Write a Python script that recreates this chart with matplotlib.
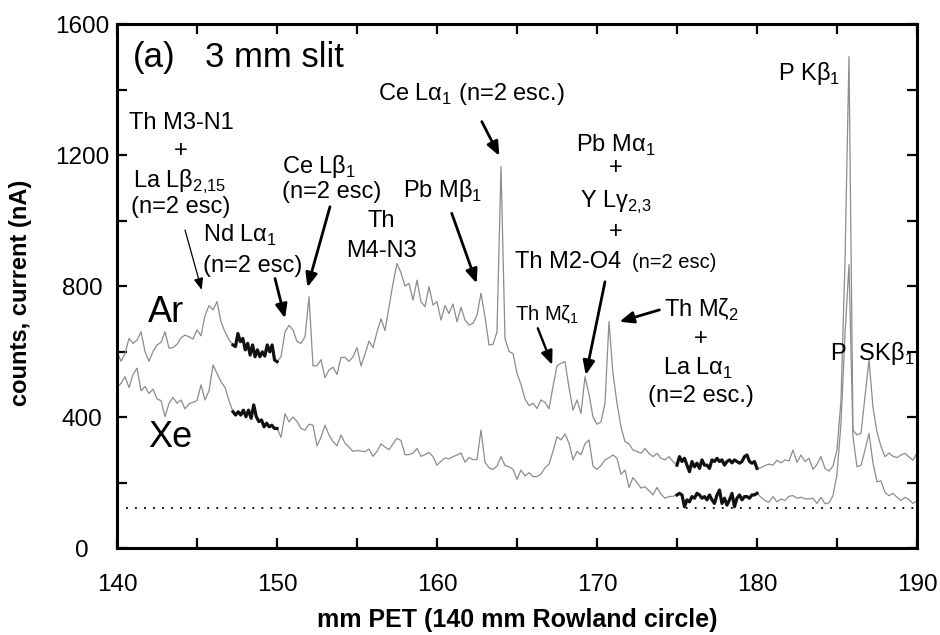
import numpy as np
import matplotlib.pyplot as plt
from matplotlib.ticker import MultipleLocator, FuncFormatter

plt.rcParams['font.family'] = ['Liberation Sans', 'DejaVu Sans']
plt.rcParams['mathtext.fontset'] = 'custom'
plt.rcParams['mathtext.rm'] = 'Liberation Sans'

# spectrometer position, mm PET, 0.25 mm steps
mm = np.arange(140.0, 190.001, 0.25)

ar_counts = [
    600, 570, 594, 640, 625, 635, 660, 600, 570, 600, 620, 628, 660, 610, 612, 622, 642, 650, 645, 638,
    666, 648, 710, 740, 727, 752, 690, 660, 635, 620, 655, 638, 612, 592, 600, 600, 590, 592, 600, 578,
    569, 584, 660, 680, 666, 630, 625, 645, 767, 556, 557, 575, 520, 544, 552, 530, 582, 582, 570, 584,
    612, 556, 592, 632, 612, 660, 700, 664, 737, 808, 869, 840, 800, 808, 757, 818, 752, 737, 798, 742,
    752, 696, 740, 716, 745, 691, 735, 696, 681, 686, 711, 778, 706, 620, 622, 660, 1165, 640, 600, 594,
    533, 500, 455, 435, 442, 426, 452, 445, 425, 493, 556, 564, 569, 490, 421, 452, 411, 523, 470, 400,
    378, 385, 442, 691, 533, 442, 370, 325, 318, 299, 295, 289, 304, 289, 279, 289, 274, 269, 279, 264,
    253, 270, 274, 240, 264, 255, 255, 253, 245, 269, 274, 266, 253, 267, 260, 264, 262, 279, 270, 259,
    243, 245, 252, 256, 253, 268, 260, 269, 266, 299, 262, 284, 264, 274, 240, 255, 279, 243, 235, 250,
    300, 450, 870, 1500, 360, 345, 350, 462, 574, 430, 355, 310, 279, 290, 280, 276, 284, 289, 278, 268,
    290,
]

xe_counts = [
    490, 503, 523, 490, 530, 549, 480, 493, 472, 485, 455, 450, 401, 442, 460, 442, 452, 425, 440, 445,
    450, 498, 452, 480, 559, 533, 508, 490, 450, 416, 416, 410, 401, 400, 437, 386, 385, 381, 370, 365,
    365, 338, 410, 385, 400, 386, 365, 360, 378, 375, 312, 338, 375, 345, 325, 312, 345, 320, 308, 295,
    298, 296, 294, 302, 280, 295, 318, 308, 300, 318, 335, 328, 285, 285, 290, 304, 280, 285, 292, 279,
    253, 265, 275, 272, 279, 284, 290, 262, 276, 270, 270, 360, 262, 245, 240, 250, 279, 252, 248, 240,
    210, 238, 220, 230, 218, 218, 226, 245, 256, 295, 340, 330, 348, 320, 270, 295, 285, 318, 330, 250,
    240, 252, 269, 276, 284, 274, 225, 238, 185, 215, 200, 183, 187, 175, 162, 185, 165, 152, 157, 158,
    162, 162, 141, 157, 160, 152, 150, 150, 147, 140, 170, 140, 145, 140, 140, 152, 152, 157, 152, 162,
    167, 155, 145, 140, 157, 141, 150, 145, 158, 160, 152, 155, 150, 150, 152, 136, 155, 135, 138, 160,
    225, 380, 650, 865, 340, 248, 252, 299, 350, 260, 202, 205, 170, 160, 167, 155, 145, 155, 148, 136,
    145,
]

# background windows, finer scans drawn in black
bg1 = (147.25, 150.0)
bg2 = (175.0, 180.0)
ar_bg1 = [620, 615, 655, 630, 640, 605, 625, 589, 620, 584, 605, 584, 599, 586, 620, 599, 620, 574, 569]
xe_bg1 = [416, 406, 416, 406, 421, 401, 421, 396, 437, 401, 386, 391, 370, 381, 370, 375, 365, 365]
ar_bg2 = [253, 279, 264, 274, 253, 233, 264, 248, 259, 243, 269, 253, 253, 243, 269, 264, 274,
          264, 269, 253, 264, 269, 260, 269, 264, 259, 264, 279, 284, 264, 259, 264, 243]
xe_bg2 = [162, 167, 162, 126, 147, 141, 157, 152, 167, 162, 152, 157, 147, 162, 147, 136, 162,
          177, 136, 152, 131, 147, 167, 126, 152, 162, 147, 157, 157, 152, 162, 162, 167]

baseline = 123

fig = plt.figure(figsize=(9.4, 6.35), dpi=100)
ax = fig.add_axes([0.1245, 0.137, 0.851, 0.8252])

inside = ((mm > bg1[0]) & (mm < bg1[1])) | ((mm > bg2[0]) & (mm < bg2[1]))
grey = '#8c8c8c'
for counts in (ar_counts, xe_counts):
    y = np.where(inside, np.nan, np.asarray(counts, dtype=float))
    ax.plot(mm, y, color=grey, lw=0.9)

for (lo, hi), vals in [(bg1, ar_bg1), (bg1, xe_bg1), (bg2, ar_bg2), (bg2, xe_bg2)]:
    ax.plot(np.linspace(lo, hi, len(vals)), vals, color='#111111', lw=2.3)

ax.axhline(baseline, color='black', lw=1.3, ls=(0, (1, 4)))

ax.set_xlim(140, 190)
ax.set_ylim(0, 1600)
ax.xaxis.set_major_locator(MultipleLocator(10))
ax.xaxis.set_minor_locator(MultipleLocator(5))
ax.yaxis.set_major_locator(MultipleLocator(400))
ax.yaxis.set_minor_locator(MultipleLocator(200))
ax.yaxis.set_major_formatter(FuncFormatter(lambda v, p: f'{v:.0f}'))
ax.tick_params(which='both', direction='in', top=True, right=True, length=7, width=1.6)
ax.tick_params(axis='x', labelsize=17.5, pad=19)
ax.tick_params(axis='y', labelsize=17.5, pad=25)
for t in ax.get_yticklabels():
    t.set_horizontalalignment('center')
for s in ax.spines.values():
    s.set_linewidth(2.2)

fig.text(0.55, 0.024, 'mm PET (140 mm Rowland circle)', fontsize=18, fontweight='bold',
         ha='center', va='center')
fig.text(0.0213, 0.539, 'counts, current (nA)', fontsize=17, fontweight='bold',
         rotation=90, ha='center', va='center')


def label(x, y, s, size=17, ha='center'):
    ax.text(x, y, s, fontsize=size, ha=ha, va='baseline')


def arrow(start, tip, lw=2.0, hl=0.6, hw=0.25):
    ax.annotate('', xy=tip, xytext=start,
                arrowprops=dict(arrowstyle=f'-|>,head_length={hl},head_width={hw}',
                                color='black', lw=lw, mutation_scale=14,
                                shrinkA=0, shrinkB=0))


label(141.0, 1469, '(a)', size=25, ha='left')
label(145.5, 1469, '3 mm slit', size=25, ha='left')
label(141.94, 691, 'Ar', size=26, ha='left')
label(141.94, 309, 'Xe', size=26, ha='left')

label(144.0, 1279, 'Th M3-N1')
label(144.0, 1194, '+')
label(143.94, 1099, r'La L$\mathregular{\beta}_\mathregular{2{,}15}$')
label(144.0, 1023, '(n=2 esc)')
arrow((144.25, 971), (145.29, 788), lw=0.9, hl=0.5, hw=0.2)

label(145.375, 935, r'Nd L$\mathregular{\alpha}_\mathregular{1}$', ha='left')
label(145.375, 844, '(n=2 esc)', ha='left')
arrow((149.875, 823), (150.5, 701))

label(150.31, 1145, r'Ce L$\mathregular{\beta}_\mathregular{1}$', ha='left')
label(150.31, 1069, '(n=2 esc)', ha='left')
arrow((153.31, 1042), (151.9, 796))

label(156.5, 980, 'Th')
label(156.5, 889, 'M4-N3')

label(157.875, 1072, r'Pb M$\mathregular{\beta}_\mathregular{1}$', ha='left')
arrow((160.92, 1022), (162.48, 808))

label(156.3, 1368, r'Ce L$\mathregular{\alpha}_\mathregular{1}$ (n=2 esc.)', ha='left')
arrow((162.8, 1302), (163.9, 1197))

label(171.2, 1210, r'Pb M$\mathregular{\alpha}_\mathregular{1}$')
label(171.2, 1142, '+')
label(171.2, 1038, r'Y L$\mathregular{\gamma}_\mathregular{2{,}3}$')
label(171.2, 947, '+')
label(164.9, 855, 'Th M2-O4', ha='left')
label(172.17, 855, '(n=2 esc)', size=14.5, ha='left')
arrow((170.5, 813), (169.3, 528))

label(166.9, 696, r'Th M$\mathregular{\zeta}_\mathregular{1}$', size=14.5)
arrow((166.3, 671), (167.2, 559), lw=1.7)

label(176.5, 705, r'Th M$\mathregular{\zeta}_\mathregular{2}$')
label(176.5, 620, '+')
label(176.3, 528, r'La L$\mathregular{\alpha}_\mathregular{1}$')
label(176.5, 447, '(n=2 esc.)')
arrow((173.9, 727), (171.4, 691))

label(183.25, 1429, r'P K$\mathregular{\beta}_\mathregular{1}$')
label(184.56, 574, r'P  SK$\mathregular{\beta}_\mathregular{1}$', ha='left')

fig.savefig('out.png', dpi=100)
